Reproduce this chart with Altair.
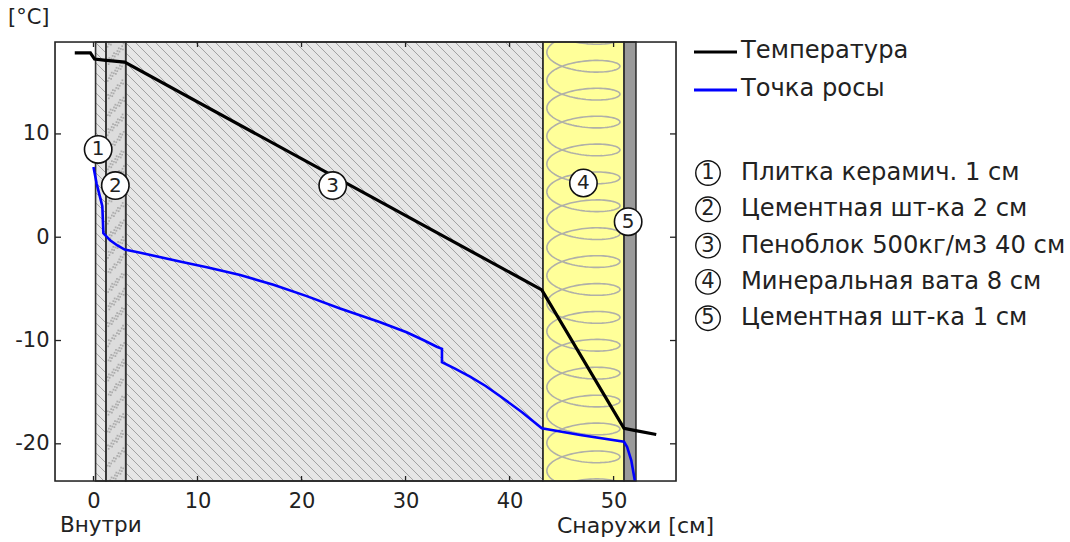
import numpy as np
import pandas as pd
import altair as alt

# ---- axes -------------------------------------------------------------
X_DOMAIN = [-3.7, 56.0]
Y_DOMAIN = [-23.6, 18.9]
W, H = 621, 439
X_TICKS = [0, 10, 20, 30, 40, 50]
Y_TICKS = [-20, -10, 0, 10]
FONT = "DejaVu Sans"

# ---- wall layers (cm from the inner surface) ---------------------------
layer_num = [1, 2, 3, 4, 5]
layer_x0 = [0.2, 1.2, 3.1, 43.2, 51.0]
layer_x1 = [1.2, 3.1, 43.2, 51.0, 52.15]
layer_fill = ["#e6e6e6", "#dcdcdc", "#e6e6e6", "#ffff99", "#9a9a9a"]
layer_names = [
    "Плитка керамич. 1 см",
    "Цементная шт-ка 2 см",
    "Пеноблок 500кг/м3 40 см",
    "Минеральная вата 8 см",
    "Цементная шт-ка 1 см",
]
# where the circled layer numbers sit inside the plot
label_x = [0.45, 2.1, 23.0, 47.1, 51.4]
label_y = [8.5, 5.0, 5.0, 5.25, 1.5]

# ---- temperature profile -----------------------------------------------
temp_x = [-1.8, -0.3, 0.1, 1.0, 3.0, 43.1, 51.0, 52.0, 54.1]
temp_y = [17.85, 17.85, 17.25, 17.15, 16.95, -5.1, -18.5, -18.7, -19.1]

# ---- dew point profile -------------------------------------------------
dew_x = [0.0, 0.3, 0.6, 0.85, 0.95, 1.6, 2.3, 3.0, 4.5, 8.3, 10.9, 14.1,
         17.3, 20.5, 23.7, 27.5, 30.1, 31.7, 33.0, 33.5, 33.5, 34.8, 36.2,
         37.7, 39.1, 41.2, 43.1, 46.8, 51.0, 51.3, 51.7, 52.1]
dew_y = [6.8, 5.2, 4.0, 3.0, 0.4, -0.3, -0.8, -1.2, -1.5, -2.35, -2.9, -3.66,
         -4.6, -5.7, -6.9, -8.2, -9.2, -9.95, -10.6, -10.8, -12.1, -12.75,
         -13.5, -14.4, -15.4, -16.95, -18.5, -19.15, -19.8, -20.3, -21.6,
         -23.9]

series_names = ["Температура", "Точка росы"]
series_colors = ["#000000", "#0000ff"]


# ---- pixel <-> data helpers for the fill patterns ----------------------
def px(x):
    return (x - X_DOMAIN[0]) / (X_DOMAIN[1] - X_DOMAIN[0]) * W


def dx(p):
    return X_DOMAIN[0] + p / W * (X_DOMAIN[1] - X_DOMAIN[0])


def dy(p):
    return Y_DOMAIN[1] - p / H * (Y_DOMAIN[1] - Y_DOMAIN[0])


def hatch(x0, x1, step=10.0):
    """Diagonal hatch segments (45 deg, going down-right) clipped to a layer."""
    X0, X1 = px(x0), px(x1)
    rows = []
    c = np.arange(np.floor(-X1 / step) * step, H - X0 + step, step)
    for ci in c:
        xa, xb = max(X0, -ci), min(X1, H - ci)
        if xb > xa:
            rows.append(dict(x=dx(xa), y=dy(xa + ci), x2=dx(xb), y2=dy(xb + ci)))
    return rows


def wool(x0, x1, period=27.9, phase=10.3, bulge=12.0, margin=4.0):
    """Coil-like insulation symbol running down the layer."""
    xc = (px(x0) + px(x1)) / 2
    half = (px(x1) - px(x0)) / 2 - margin
    t = np.linspace(-2 * np.pi, 2 * np.pi * (H / period + 2), 1600)
    X = xc - half * np.cos(t)
    Y = phase + period * t / (2 * np.pi) + bulge * np.sin(t)
    return pd.DataFrame({"x": dx(X), "y": dy(Y), "i": np.arange(len(t))})


def stipple(x0, x1, n=420):
    """Evenly scattered specks (R2 low-discrepancy sequence) for plaster."""
    g = 1.32471795724
    a1, a2 = 1 / g, 1 / g ** 2
    i = np.arange(1, n + 1)
    u = (0.5 + a1 * i) % 1
    v = (0.5 + a2 * i) % 1
    X = px(x0) + 1.5 + u * (px(x1) - px(x0) - 3)
    return pd.DataFrame({"x": dx(X), "y": dy(v * H)})


# ---- shared encodings --------------------------------------------------
xscale = alt.Scale(domain=X_DOMAIN, nice=False, zero=False)
yscale = alt.Scale(domain=Y_DOMAIN, nice=False, zero=False)
xaxis = alt.Axis(values=X_TICKS, ticks=False, domain=False, grid=False,
                 labelPadding=9, labelFontSize=21, labelColor="#222",
                 labelFont=FONT, title=None, labelFlush=False,
                 labelExpr="'' + datum.value")
yaxis = alt.Axis(values=Y_TICKS, ticks=False, domain=False, grid=False,
                 labelPadding=6, labelFontSize=21, labelColor="#222",
                 labelFont=FONT, title=None, labelExpr="'' + datum.value")


def X(field):
    return alt.X(field, type="quantitative", scale=xscale, axis=xaxis)


def Y(field):
    return alt.Y(field, type="quantitative", scale=yscale, axis=yaxis)


layers_df = pd.DataFrame({"n": layer_num, "x0": layer_x0, "x1": layer_x1,
                          "fill": layer_fill})

layer_rects = alt.Chart(layers_df).mark_rect(strokeWidth=0).encode(
    x=X("x0"), x2="x1", y=alt.value(0), y2=alt.value(H),
    fill=alt.Fill("fill:N", scale=None),
)

hatch_df = pd.DataFrame(hatch(layer_x0[0], layer_x1[0]) + hatch(layer_x0[2], layer_x1[2]))
hatching = alt.Chart(hatch_df).mark_rule(color="#a2a2a2", strokeWidth=1.0).encode(
    x=X("x"), y=Y("y"), x2="x2", y2="y2")

specks = alt.Chart(stipple(layer_x0[1], layer_x1[1])).mark_square(
    size=3, color="#a6a6a6", opacity=0.9).encode(x=X("x"), y=Y("y"))

wool_line = alt.Chart(wool(layer_x0[3], layer_x1[3])).mark_line(
    color="#b0b0a8", strokeWidth=1.6, clip=True).encode(
    x=X("x"), y=Y("y"), order="i:Q")

# layer borders above the patterns
borders = alt.Chart(layers_df).mark_rect(fillOpacity=0, stroke="#333", strokeWidth=1.6).encode(
    x=X("x0"), x2="x1", y=alt.value(0), y2=alt.value(H))

temp_df = pd.DataFrame({"x": temp_x, "y": temp_y, "i": range(len(temp_x))})
dew_df = pd.DataFrame({"x": dew_x, "y": dew_y, "i": range(len(dew_x))})

temp_line = alt.Chart(temp_df).mark_line(color=series_colors[0], strokeWidth=3.2, clip=True).encode(
    x=X("x"), y=Y("y"), order="i:Q")
dew_line = alt.Chart(dew_df).mark_line(color=series_colors[1], strokeWidth=2.6, clip=True).encode(
    x=X("x"), y=Y("y"), order="i:Q")

# inward tick marks on all four sides
xt = pd.DataFrame({"v": X_TICKS})
yt = pd.DataFrame({"v": Y_TICKS})
tick_style = dict(color="#222", strokeWidth=1.3)
ticks = (
    alt.Chart(xt).mark_rule(**tick_style).encode(x=X("v"), y=alt.value(H), y2=alt.value(H - 5))
    + alt.Chart(xt).mark_rule(**tick_style).encode(x=X("v"), y=alt.value(0), y2=alt.value(5))
    + alt.Chart(yt).mark_rule(**tick_style).encode(y=Y("v"), x=alt.value(0), x2=alt.value(6))
    + alt.Chart(yt).mark_rule(**tick_style).encode(y=Y("v"), x=alt.value(W), x2=alt.value(W - 6))
)

frame = alt.Chart(pd.DataFrame({"a": [0]})).mark_rect(
    fillOpacity=0, stroke="#222", strokeWidth=1.6).encode(
    x=alt.value(0), x2=alt.value(W), y=alt.value(0), y2=alt.value(H))

# circled layer numbers
marks_df = pd.DataFrame({"x": label_x, "y": label_y, "n": [str(n) for n in layer_num]})
num_circles = alt.Chart(marks_df).mark_circle(
    size=750, color="white", opacity=1, stroke="#111", strokeWidth=1.6).encode(
    x=X("x"), y=Y("y"))
num_text = alt.Chart(marks_df).mark_text(font=FONT, fontSize=20, color="#222").encode(
    x=X("x"), y=Y("y"), text="n:N")


def text_at(s, x, y, align="left", size=21):
    return alt.Chart(pd.DataFrame({"t": [s]})).mark_text(
        font=FONT, fontSize=size, color="#222", align=align, baseline="middle").encode(
        x=alt.value(x), y=alt.value(y), text="t:N")


# axis captions
captions = (
    text_at("[°C]", -47, -24)
    + text_at("Внутри", 5, 484, size=21.5)
    + text_at("Снаружи [см]", 502, 484, size=22)
)

# legend: line series
LEG_X = 639
LEG_FONT = 24.2
legend = None
for k, (name, col) in enumerate(zip(series_names, series_colors)):
    yk = 9 + 38 * k
    row = (
        alt.Chart(pd.DataFrame({"t": [name]})).mark_rule(color=col, strokeWidth=3).encode(
            x=alt.value(LEG_X), x2=alt.value(LEG_X + 43), y=alt.value(yk + 1))
        + text_at(name, LEG_X + 47, yk, size=LEG_FONT)
    )
    legend = row if legend is None else legend + row

# legend: numbered layers
for k, name in enumerate(layer_names):
    yk = 131 + 36.3 * k
    row = (
        alt.Chart(pd.DataFrame({"t": [str(layer_num[k])]})).mark_circle(
            size=600, color="white", opacity=1, stroke="#111", strokeWidth=1.4).encode(
            x=alt.value(653), y=alt.value(yk))
        + alt.Chart(pd.DataFrame({"t": [str(layer_num[k])]})).mark_text(
            font=FONT, fontSize=21, color="#222").encode(
            x=alt.value(653), y=alt.value(yk), text="t:N")
        + text_at(name, LEG_X + 47, yk, size=LEG_FONT)
    )
    legend = legend + row

chart = alt.layer(
    layer_rects, hatching, specks, wool_line, borders,
    temp_line, dew_line, ticks, frame, num_circles, num_text,
    captions, legend,
).properties(
    width=W, height=H,
    padding={"left": 55, "top": 42, "right": 394, "bottom": 61},
    autosize="none",
).configure_view(stroke=None).configure(background="white")

chart.save("out.html", embed_options={"renderer": "svg", "actions": False})
